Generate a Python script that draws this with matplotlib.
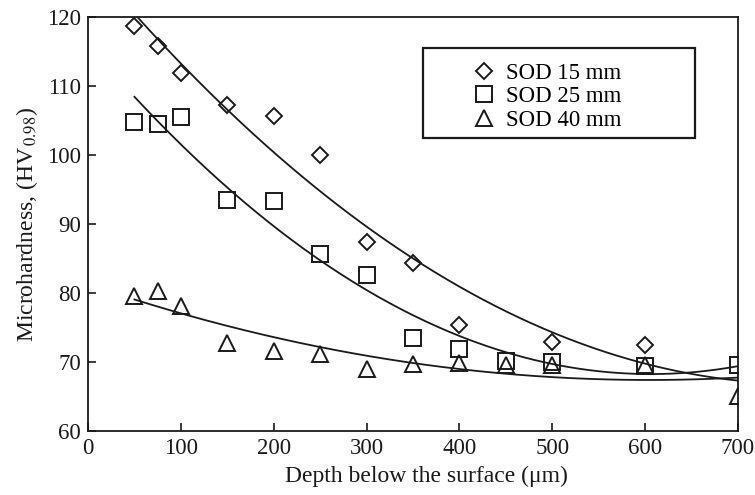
import numpy as np
import matplotlib.pyplot as plt
from matplotlib.patches import Rectangle

plt.rcParams['font.family'] = ['Liberation Serif', 'DejaVu Serif']
plt.rcParams['mathtext.fontset'] = 'stix'

#---------------------------Measured microhardness profiles---------------------------#
depth_15 = [50, 75, 100, 150, 200, 250, 300, 350, 400, 500, 600]
hv_15 = [118.7, 115.8, 111.9, 107.2, 105.7, 100.0, 87.4, 84.3, 75.4, 72.9, 72.5]

depth_25 = [50, 75, 100, 150, 200, 250, 300, 350, 400, 450, 500, 600, 700]
hv_25 = [104.8, 104.5, 105.5, 93.5, 93.3, 85.6, 82.6, 73.5, 71.9, 70.1, 70.0, 69.4, 69.6]

depth_40 = [50, 75, 100, 150, 200, 250, 300, 350, 400, 450, 500, 600, 700]
hv_40 = [79.6, 80.3, 78.1, 72.8, 71.6, 71.2, 69.0, 69.7, 69.9, 69.6, 69.6, 69.6, 65.1]

series_labels = ['SOD 15 mm', 'SOD 25 mm', 'SOD 40 mm']
#--------------------------------------------------------------------------------------#

fig = plt.figure(figsize=(7.55, 4.95), dpi=100)
ax = fig.add_axes([0.1166, 0.1293, 0.8609, 0.8364])

ink = '#1a1a1a'
fs = 16.5
styles = [('D', 8.0), ('s', 11.5), ('^', 11.0)]
data = [(depth_15, hv_15), (depth_25, hv_25), (depth_40, hv_40)]

xfit = np.linspace(50, 700, 200)
for (x, y), (m, ms), lab in zip(data, styles, series_labels):
    ax.plot(x, y, linestyle='none', marker=m, markersize=ms, markerfacecolor='none',
            markeredgecolor=ink, markeredgewidth=1.4, label=lab)
    #second order trend line through each profile
    coef = np.polyfit(x, y, 2)
    ax.plot(xfit, np.polyval(coef, xfit), color=ink, lw=1.3)

ax.set_xlim(0, 700)
ax.set_ylim(60, 120)
ax.set_xticks(range(0, 701, 100))
ax.set_yticks(range(60, 121, 10))
ax.tick_params(direction='in', length=6, width=1.2, labelsize=fs, colors=ink, pad=5)
for sp in ax.spines.values():
    sp.set_linewidth(1.3)
    sp.set_color(ink)

ax.set_xlabel('Depth below the surface (\u03bcm)', fontsize=fs + 0.5, color=ink, labelpad=3)
ax.xaxis.set_label_coords(0.52, -0.085)
ax.set_ylabel('Microhardness, (HV$_{\\,0.98}$)', fontsize=fs + 0.5, color=ink, labelpad=5)

#legend entries without frame, box drawn separately (wider on the right)
leg = ax.legend(loc='upper left', bbox_to_anchor=(0.594, 0.889), fontsize=fs,
                frameon=False, handlelength=0.9, handletextpad=0.5,
                labelspacing=0.1, borderpad=0, borderaxespad=0)
ax.add_patch(Rectangle((0.515, 0.708), 0.419, 0.217, transform=ax.transAxes,
                       fill=False, edgecolor=ink, linewidth=1.6, zorder=5))

fig.savefig('out.png', dpi=100)
